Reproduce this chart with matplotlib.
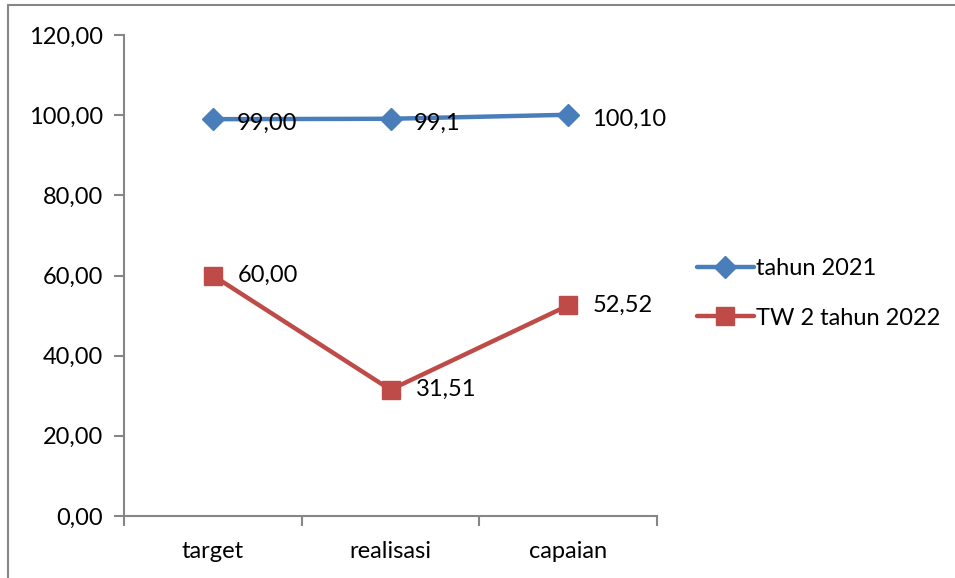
import matplotlib.pyplot as plt
from matplotlib.patches import Rectangle

# ==============================
# DATA
# ==============================

categories = ["target", "realisasi", "capaian"]
tahun_2021 = [99.00, 99.1, 100.10]
tw2_2022 = [60.00, 31.51, 52.52]
labels_2021 = ["99,00", "99,1", "100,10"]
labels_2022 = ["60,00", "31,51", "52,52"]
y_ticks = [0, 20, 40, 60, 80, 100, 120]

BLUE = "#4a7ebb"
RED = "#be4b48"
AXIS = "#868686"
FS = 17

plt.rcParams["font.family"] = ["Lato", "DejaVu Sans"]

fig = plt.figure(figsize=(9.55, 5.78), dpi=100)
fig.patch.set_facecolor("white")

# chart area border
fig.patches.append(Rectangle((8 / 955, -0.1), 1.2, (578 - 5) / 578 + 0.1,
                             transform=fig.transFigure, fill=False,
                             edgecolor=AXIS, linewidth=1.5))

ax = fig.add_axes([124 / 955, 62 / 578, (657 - 124) / 955, (516 - 35) / 578])

x = list(range(len(categories)))

ax.plot(x, tahun_2021, color=BLUE, linewidth=3.2, marker="D", markersize=11,
        label="tahun 2021", solid_capstyle="round")
ax.plot(x, tw2_2022, color=RED, linewidth=3.2, marker="s", markersize=13.5,
        label="TW 2 tahun 2022", solid_capstyle="round")

for xi, yi, lab in zip(x, tahun_2021, labels_2021):
    ax.annotate(lab, (xi, yi), xytext=(17, -3), textcoords="offset points",
                ha="left", va="center", fontsize=FS)
for xi, yi, lab in zip(x, tw2_2022, labels_2022):
    ax.annotate(lab, (xi, yi), xytext=(18, 0), textcoords="offset points",
                ha="left", va="center", fontsize=FS)

ax.set_xlim(-0.5, 2.5)
ax.set_ylim(0, 120)
ax.set_yticks(y_ticks)
ax.set_yticklabels([f"{v:.2f}".replace(".", ",") for v in y_ticks], fontsize=FS)
ax.set_xticks([-0.5, 0.5, 1.5, 2.5], minor=False)
ax.set_xticklabels([])
ax.set_xticks(x, minor=True)
ax.set_xticklabels(categories, minor=True, fontsize=FS)
ax.tick_params(axis="x", which="minor", length=0, pad=18)
ax.tick_params(axis="x", which="major", length=7, color=AXIS, width=1.5, direction="out")
ax.tick_params(axis="y", length=7, color=AXIS, width=1.5, direction="out", pad=8)

for side in ["top", "right"]:
    ax.spines[side].set_visible(False)
for side in ["left", "bottom"]:
    ax.spines[side].set_color(AXIS)
    ax.spines[side].set_linewidth(1.5)

ax.legend(loc="center left", bbox_to_anchor=(697 / 955, 1 - 293.5 / 578),
          bbox_transform=fig.transFigure, frameon=False, borderaxespad=0,
          borderpad=0, fontsize=FS, handlelength=2.4, handletextpad=0.1,
          labelspacing=1.2)

fig.savefig("out.png", dpi=100)
